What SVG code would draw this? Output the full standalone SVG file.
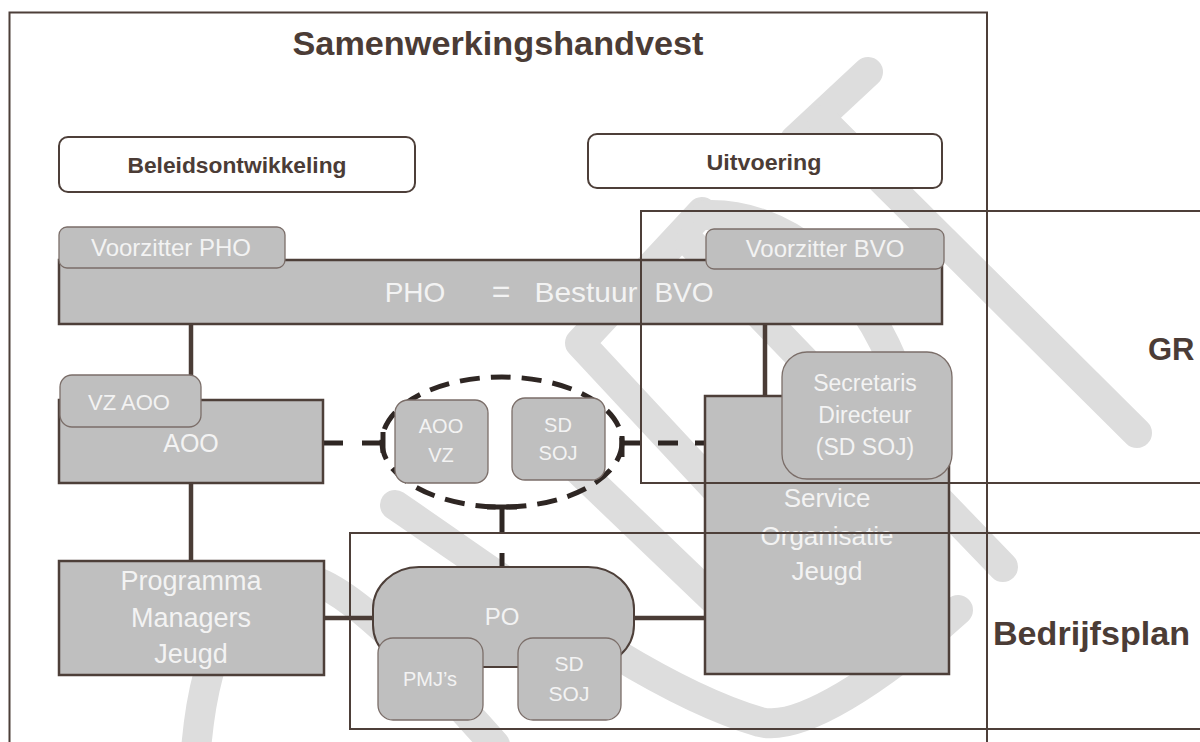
<svg xmlns="http://www.w3.org/2000/svg" width="1200" height="742" viewBox="0 0 1200 742">
  <style>
    .wm { fill: none; stroke: #dddddd; stroke-width: 30; stroke-linecap: round; stroke-linejoin: round; }
    .frame { fill: none; stroke: #4d3f39; stroke-width: 2; }
    .wbox { fill: #ffffff; stroke: #4d3f39; stroke-width: 2; }
    .box { fill: #bfbfbf; stroke: #4d3f39; stroke-width: 2.5; }
    .rbox { fill: #bfbfbf; stroke: #7b6e69; stroke-width: 1.3; }
    .conn { fill: none; stroke: #4a3c36; stroke-width: 4.5; }
    .dash { fill: none; stroke: #2e2623; stroke-width: 5; }
    .t { font-family: "Liberation Sans", Arial, sans-serif; fill: #f3f3f3; text-anchor: middle; }
    .h { font-family: "Liberation Sans", Arial, sans-serif; font-weight: bold; fill: #4b3c36; }
  </style>

  <rect x="0" y="0" width="1200" height="742" fill="#ffffff"/>

  <g id="watermark">
    <path class="wm" d="M 868 72 L 795 140"/>
    <path class="wm" d="M 822 120 L 1137 433"/>
    <path class="wm" d="M 702 212 L 580 343 L 715 488 L 770 545"/>
    <path class="wm" d="M 690 242 L 1003 567"/>
    <path class="wm" d="M 706 215 C 780 212, 860 270, 900 380"/>
    <path class="wm" d="M 566 458 L 730 615"/>
    <path class="wm" d="M 196 750 C 205 640, 240 580, 300 578 C 340 578, 420 660, 495 745"/>
    <path class="wm" d="M 395 505 C 520 590, 650 690, 760 722 C 800 732, 880 680, 958 610"/>
  </g>

  <g id="title">
    <text class="h" x="498" y="55" font-size="33" text-anchor="middle" textLength="411" lengthAdjust="spacingAndGlyphs">Samenwerkingshandvest</text>
  </g>

  <g id="beleidsontwikkeling">
    <rect class="wbox" x="59" y="137" width="356" height="55" rx="9"/>
    <text class="h" x="237" y="173" font-size="22" text-anchor="middle" textLength="219" lengthAdjust="spacingAndGlyphs">Beleidsontwikkeling</text>
  </g>

  <g id="uitvoering">
    <rect class="wbox" x="588" y="134" width="354" height="54" rx="9"/>
    <text class="h" x="764" y="170" font-size="22" text-anchor="middle" textLength="115" lengthAdjust="spacingAndGlyphs">Uitvoering</text>
  </g>

  <g id="connectors">
    <line class="conn" x1="191" y1="324" x2="191" y2="376"/>
    <line class="conn" x1="191" y1="483" x2="191" y2="561"/>
    <line class="conn" x1="765" y1="324" x2="765" y2="396"/>
    <line class="conn" x1="324" y1="618" x2="373" y2="618" stroke-width="5"/>
    <line class="conn" x1="634" y1="618" x2="705" y2="618" stroke-width="5"/>
    <line class="dash" x1="323" y1="443" x2="383" y2="443" stroke-dasharray="20 19"/>
    <line class="dash" x1="622" y1="443" x2="707" y2="443" stroke-dasharray="18 18 20 17"/>
    <line class="dash" x1="502" y1="507" x2="502" y2="567" stroke-dasharray="26 20"/>
    <line class="dash" x1="383" y1="432" x2="383" y2="453"/>
    <line class="dash" x1="622" y1="436" x2="622" y2="457"/>
    <line class="dash" x1="487" y1="507" x2="517" y2="507"/>
  </g>

  <g id="pho-bestuur">
    <rect class="box" x="59" y="260" width="883" height="64"/>
    <text class="t" x="415" y="302" font-size="28">PHO</text>
    <text class="t" x="501" y="302" font-size="32">=</text>
    <text class="t" x="586" y="302" font-size="28" textLength="103" lengthAdjust="spacingAndGlyphs">Bestuur</text>
    <text class="t" x="684" y="302" font-size="28">BVO</text>
  </g>

  <g id="voorzitter-pho">
    <rect class="rbox" x="59" y="227" width="226" height="41" rx="8"/>
    <text class="t" x="171" y="256" font-size="24">Voorzitter PHO</text>
  </g>

  <g id="voorzitter-bvo">
    <rect class="rbox" x="706" y="229" width="238" height="40" rx="8"/>
    <text class="t" x="825" y="257" font-size="24">Voorzitter BVO</text>
  </g>

  <g id="aoo">
    <rect class="box" x="59" y="400" width="264" height="83"/>
    <text class="t" x="191" y="452" font-size="25">AOO</text>
  </g>

  <g id="vz-aoo">
    <rect class="rbox" x="60" y="375" width="141" height="52" rx="12"/>
    <text class="t" x="129" y="410" font-size="22">VZ AOO</text>
  </g>

  <g id="overleg">
    <ellipse cx="502" cy="442" rx="120" ry="65" fill="none" stroke="#2e2623" stroke-width="5" stroke-dasharray="20 11"/>
  </g>

  <g id="aoo-vz">
    <rect class="rbox" x="395" y="400" width="93" height="83" rx="13"/>
    <text class="t" x="441" y="433" font-size="20">AOO</text>
    <text class="t" x="441" y="462" font-size="20">VZ</text>
  </g>

  <g id="sd-soj-top">
    <rect class="rbox" x="512" y="398" width="93" height="82" rx="13"/>
    <text class="t" x="558" y="432" font-size="20">SD</text>
    <text class="t" x="558" y="460" font-size="20">SOJ</text>
  </g>

  <g id="service-organisatie">
    <rect class="box" x="705" y="396" width="244" height="278"/>
    <text class="t" x="827" y="507" font-size="26">Service</text>
    <text class="t" x="827" y="545" font-size="26">Organisatie</text>
    <text class="t" x="827" y="580" font-size="26">Jeugd</text>
  </g>

  <g id="secretaris-directeur">
    <rect class="rbox" x="782" y="352" width="170" height="127" rx="25"/>
    <text class="t" x="865" y="391" font-size="23">Secretaris</text>
    <text class="t" x="865" y="423" font-size="23">Directeur</text>
    <text class="t" x="865" y="455" font-size="23">(SD SOJ)</text>
  </g>

  <g id="programma-managers">
    <rect class="box" x="59" y="561" width="265" height="114"/>
    <text class="t" x="191" y="590" font-size="27">Programma</text>
    <text class="t" x="191" y="627" font-size="27">Managers</text>
    <text class="t" x="191" y="663" font-size="27">Jeugd</text>
  </g>

  <g id="po">
    <rect x="373" y="567" width="261" height="100" rx="46" ry="42" fill="#bfbfbf" stroke="#4d3f39" stroke-width="2"/>
    <text class="t" x="502" y="625" font-size="24">PO</text>
  </g>

  <g id="pmjs">
    <rect class="rbox" x="378" y="638" width="105" height="82" rx="15"/>
    <text class="t" x="430" y="686" font-size="20">PMJ’s</text>
  </g>

  <g id="sd-soj-bottom">
    <rect class="rbox" x="518" y="638" width="103" height="82" rx="15"/>
    <text class="t" x="569" y="671" font-size="21">SD</text>
    <text class="t" x="569" y="701" font-size="21">SOJ</text>
  </g>

  <g id="frames">
    <rect class="frame" x="9.5" y="12.5" width="977.5" height="760"/>
    <rect class="frame" x="641" y="211" width="600" height="272"/>
    <rect class="frame" x="350" y="533" width="900" height="196"/>
  </g>

  <g id="labels">
    <text class="h" x="1148" y="360" font-size="31">GR</text>
    <text class="h" x="993" y="645" font-size="33" textLength="197" lengthAdjust="spacingAndGlyphs">Bedrijfsplan</text>
  </g>
</svg>
